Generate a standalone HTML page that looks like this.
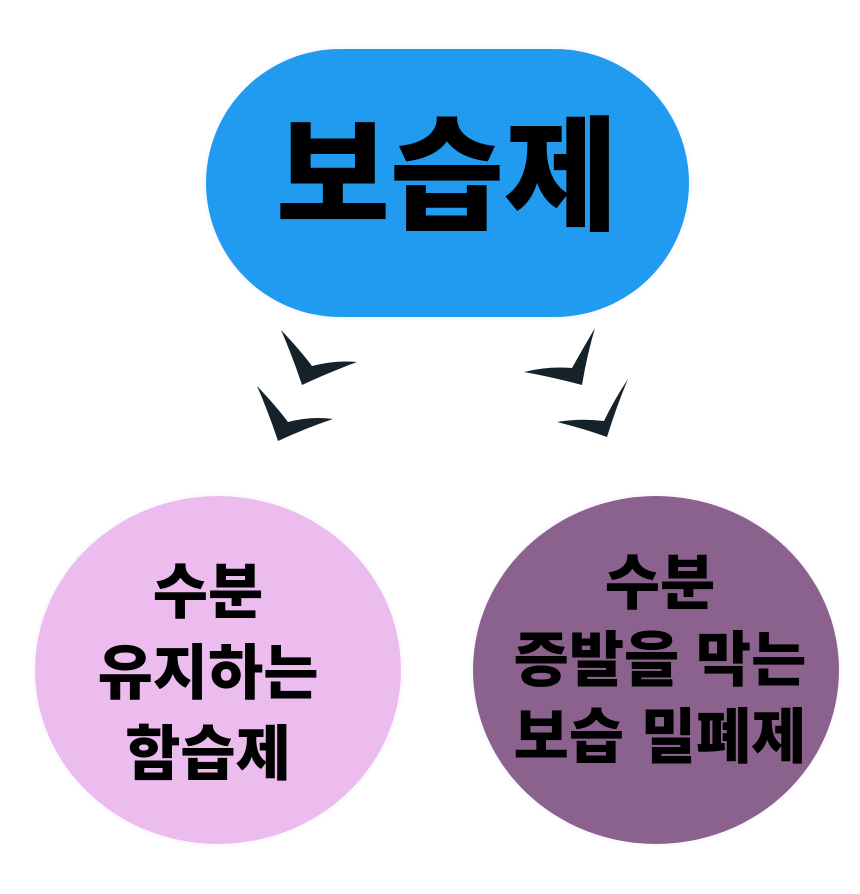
<!DOCTYPE html>
<html><head><meta charset="utf-8"><style>
html,body{margin:0;padding:0;background:#fff}
body{width:860px;height:894px;position:relative;overflow:hidden;font-family:"Liberation Sans","Noto Sans CJK KR",sans-serif}
.t{position:absolute;text-align:center;font-weight:900;color:#000;white-space:nowrap}
</style></head><body>
<svg width="860" height="894" style="position:absolute;left:0;top:0">
<rect x="203" y="46" width="489" height="274" rx="137" fill="#fbfaff"/>
<rect x="206" y="49" width="483" height="268" rx="134" fill="#219BEF"/>
<ellipse cx="218" cy="670" rx="186" ry="177" fill="#fbfaff"/>
<ellipse cx="218" cy="670" rx="183" ry="174" fill="#ECBCEF"/>
<ellipse cx="656" cy="670" rx="186" ry="177" fill="#fbfaff"/>
<ellipse cx="656" cy="670" rx="183" ry="174" fill="#8B628D"/>
<g fill="#15222A">
<path d="M281,330 Q300,350 312,366 Q335,360 357,362 Q330,372 302,385 Q292,355 281,330Z"/>
<path d="M257,386 Q276,406 288,422 Q311,416 333,419 Q306,428 278,441 Q268,411 257,386Z"/>
<path d="M595,328 Q582,350 572,368 Q548,366 524,372 Q552,377 582,385 Q587,355 595,328Z"/>
<path d="M628,379 Q614,400 604,421 Q580,418 557,422 Q585,429 607,437 Q617,405 628,379Z"/>
</g>
</svg>
<div class="t" style="left:197px;width:500px;top:108px;font-size:124px;line-height:140px">보습제</div>
<div class="t" style="left:8px;width:400px;top:552px;font-size:60px;line-height:81px">수분<br>유지하는<br>함습제</div>
<div class="t" style="left:460px;width:400px;top:545px;font-size:60px;line-height:77px">수분<br>증발을 막는<br>보습 밀폐제</div>
</body></html>
